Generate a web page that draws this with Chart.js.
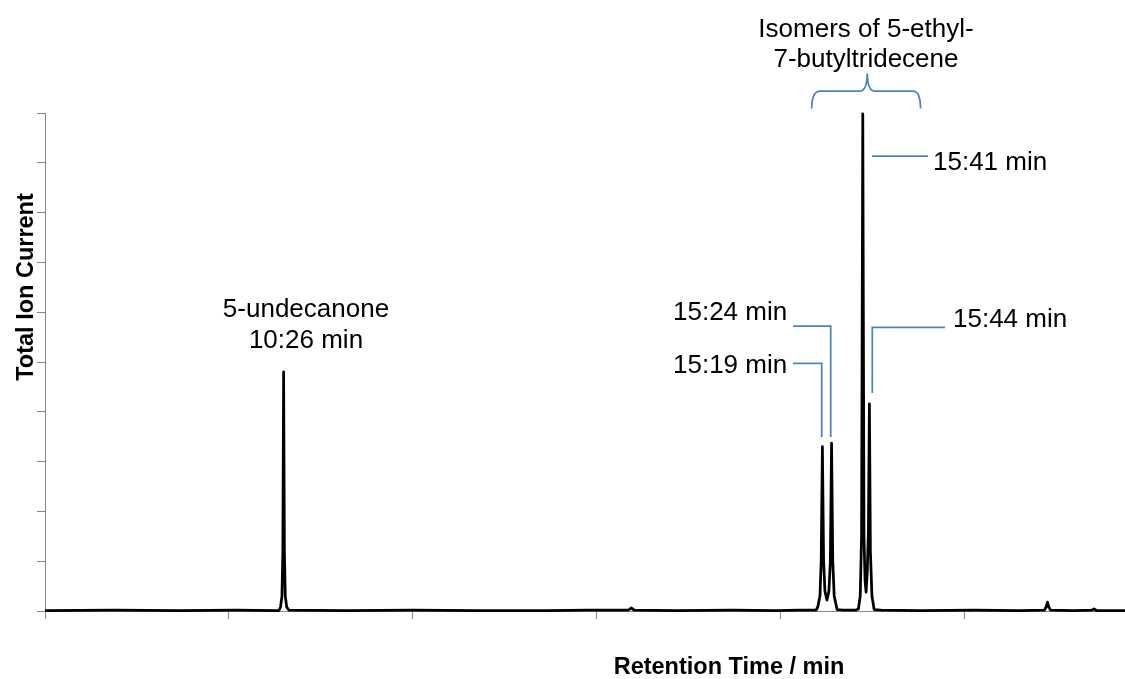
<!DOCTYPE html>
<html>
<head>
<meta charset="utf-8">
<script src="https://cdn.jsdelivr.net/npm/chart.js@4/dist/chart.umd.min.js"></script>
<style>
  html, body { margin: 0; padding: 0; background: #ffffff; }
  #wrap { width: 1125px; height: 679px; position: relative; }
</style>
</head>
<body>
<div id="wrap"><canvas id="chart"></canvas></div>
<script>
// chromatogram: retention time (min) vs. TIC (fraction of largest peak)
const retentionTime = [
  8.27, 8.9, 9.5, 10.0, 10.39,
  10.405, 10.418, 10.426, 10.433, 10.44, 10.448, 10.461,
  10.48, 11.0, 11.6, 12.2, 12.8, 13.2,
  13.56, 13.583, 13.61,
  14.0, 14.5, 14.9, 15.1, 15.26,
  15.275, 15.295, 15.306, 15.317, 15.328, 15.34, 15.358, 15.376, 15.389, 15.4, 15.411, 15.424, 15.45,
  15.5, 15.62,
  15.643, 15.66, 15.672, 15.683, 15.694, 15.704, 15.713, 15.724, 15.734, 15.743, 15.752, 15.766, 15.786,
  15.85, 16.2, 16.7, 17.1, 17.33,
  17.345, 17.357, 17.369, 17.385,
  17.6, 17.76, 17.78, 17.8, 18.06
]
const ionCurrent = [
  0.001, 0.002, 0.001, 0.002, 0.001,
  0.008, 0.03, 0.12, 0.48, 0.12, 0.03, 0.008,
  0.002, 0.001, 0.002, 0.001, 0.001, 0.002,
  0.002, 0.006, 0.002,
  0.001, 0.002, 0.001, 0.002, 0.002,
  0.008, 0.03, 0.1, 0.33, 0.1, 0.04, 0.022, 0.04, 0.1, 0.337, 0.1, 0.03, 0.003,
  0.002, 0.002,
  0.004, 0.03, 0.15, 0.998, 0.15, 0.06, 0.038, 0.08, 0.16, 0.416, 0.12, 0.03, 0.003,
  0.002, 0.001, 0.002, 0.001, 0.002,
  0.008, 0.018, 0.008, 0.002,
  0.001, 0.002, 0.004, 0.001, 0.001
]
// axis ticks carry no labels in the original
const xTickValues = [8.27, 9.937, 11.603, 13.27, 14.937, 16.603]
const yTickValues = [0, 0.1, 0.2, 0.3, 0.4, 0.5, 0.6, 0.7, 0.8, 0.9, 1]

const xTitle = "Retention Time / min"
const yTitle = "Total Ion Current"

const AXIS_GREY = "#868686"
const BLUE = "#4F81BD"
const LABEL_FONT = "26px 'Liberation Sans', Arial, sans-serif"
const TITLE_FONT = "bold 23.5px 'Liberation Sans', Arial, sans-serif"

const annotations = {
  id: "annotations",
  afterDraw(chart) {
    const ctx = chart.ctx
    ctx.save()

    // texts
    ctx.fillStyle = "#000000"
    ctx.font = LABEL_FONT
    ctx.textBaseline = "alphabetic"
    ctx.textAlign = "center"
    ctx.fillText("5-undecanone", 306, 317)
    ctx.fillText("10:26 min", 306, 348)
    ctx.fillText("Isomers of 5-ethyl-", 866, 37)
    ctx.fillText("7-butyltridecene", 866, 67)
    ctx.textAlign = "left"
    ctx.fillText("15:41 min", 933, 170)
    ctx.fillText("15:24 min", 673, 320)
    ctx.fillText("15:19 min", 673, 373)
    ctx.fillText("15:44 min", 953, 327)

    // leader lines
    ctx.strokeStyle = BLUE
    ctx.lineWidth = 1.75
    ctx.lineJoin = "miter"
    const poly = pts => {
      ctx.beginPath()
      ctx.moveTo(pts[0][0], pts[0][1])
      pts.slice(1).forEach(p => ctx.lineTo(p[0], p[1]))
      ctx.stroke()
    }
    poly([[872, 156], [928, 156]])
    poly([[793, 326], [830.7, 326], [830.7, 437]])
    poly([[793, 363.3], [821.7, 363.3], [821.7, 437]])
    poly([[872.3, 393], [872.3, 327.3], [945, 327.3]])

    // curly brace over the isomer group
    ctx.beginPath()
    ctx.moveTo(811.7, 108.5)
    ctx.quadraticCurveTo(811.7, 91, 820, 91)
    ctx.lineTo(860, 91)
    ctx.quadraticCurveTo(867, 91, 867.3, 73.5)
    ctx.quadraticCurveTo(867.6, 91, 874.5, 91)
    ctx.lineTo(913, 91)
    ctx.quadraticCurveTo(920.5, 91, 920.5, 108.5)
    ctx.stroke()

    // axis titles
    ctx.fillStyle = "#000000"
    ctx.font = TITLE_FONT
    ctx.textAlign = "center"
    ctx.fillText(xTitle, 729, 674)
    ctx.translate(32.5, 287)
    ctx.rotate(-Math.PI / 2)
    ctx.fillText(yTitle, 0, 0)

    ctx.restore()
  }
}

new Chart(document.getElementById("chart"), {
  type: "line",
  data: {
    datasets: [{
      data: retentionTime.map((t, i) => ({ x: t, y: ionCurrent[i] })),
      borderColor: "#000000",
      borderWidth: 2.75,
      borderJoinStyle: "round",
      pointRadius: 0,
      tension: 0,
      fill: false,
      clip: 4
    }]
  },
  options: {
    animation: false,
    responsive: true,
    maintainAspectRatio: false,
    layout: { padding: { top: 113, left: 0, right: 0, bottom: 0 } },
    plugins: {
      legend: { display: false },
      tooltip: { enabled: false }
    },
    scales: {
      x: {
        type: "linear",
        min: 8.27,
        max: 18.06,
        afterBuildTicks: scale => { scale.ticks = xTickValues.map(value => ({ value })) },
        afterFit: scale => { scale.height = 68 },
        ticks: { display: false },
        grid: {
          display: true,
          drawOnChartArea: false,
          drawTicks: true,
          tickLength: 8,
          color: AXIS_GREY,
          lineWidth: 1
        },
        border: { display: true, color: AXIS_GREY, width: 1 }
      },
      y: {
        min: 0,
        max: 1,
        afterBuildTicks: scale => { scale.ticks = yTickValues.map(value => ({ value })) },
        afterFit: scale => { scale.width = 45 },
        ticks: { display: false },
        grid: {
          display: true,
          drawOnChartArea: false,
          drawTicks: true,
          tickLength: 8,
          color: AXIS_GREY,
          lineWidth: 1
        },
        border: { display: true, color: AXIS_GREY, width: 1 }
      }
    }
  },
  plugins: [annotations]
})
</script>
</body>
</html>
